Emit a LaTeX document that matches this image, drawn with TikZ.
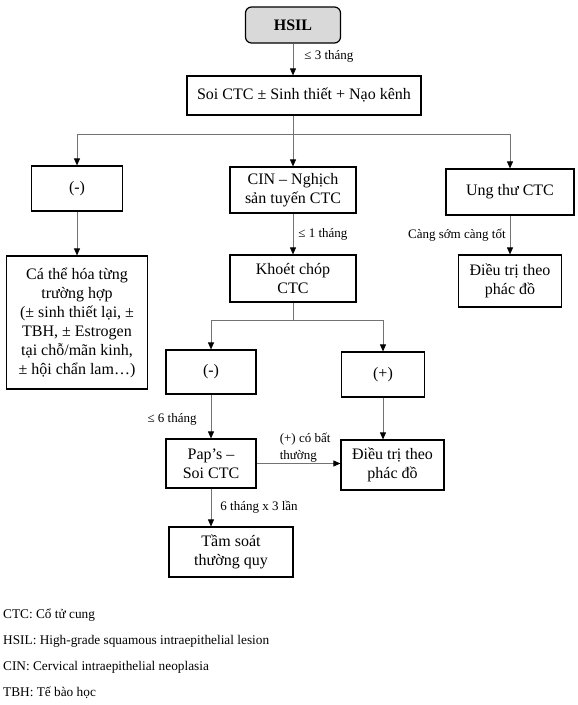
\documentclass[tikz,border=0pt]{standalone}
\usepackage{fontspec}
\setmainfont{Liberation Serif}
\usetikzlibrary{arrows.meta}

\begin{document}
\begin{tikzpicture}[x=1pt, y=-1pt,
    box/.style={draw, line width=1.2pt, align=center, inner sep=0pt, font=\fontsize{16}{19}\selectfont},
    arr/.style={draw=black!55, line width=0.8pt, -{Triangle[length=7pt, width=6pt, color=black]}},
    link/.style={draw=black!55, line width=0.8pt},
    lbl/.style={font=\fontsize{13}{17}\selectfont, inner sep=1pt},
    key/.style={anchor=west, inner sep=0pt, font=\fontsize{13.3}{15}\selectfont}]
    \useasboundingbox (0,0) rectangle (578,705);
    \node[box, rounded corners=6pt, fill=black!15, font=\bfseries\fontsize{16}{19}\selectfont,
        minimum width=95pt, minimum height=36pt] (hsil) at (293,25) {HSIL};
    \node[box, minimum width=234pt, minimum height=39pt] (soi) at (304,95.5) {Soi CTC ± Sinh thiết + Nạo kênh};
    \node[box, minimum width=91pt, minimum height=45pt] (neg) at (77,188.5) {(-)};
    \node[box, minimum width=126pt, minimum height=46pt] (cin) at (293,190) {CIN – Nghịch\\sản tuyến CTC};
    \node[box, minimum width=128pt, minimum height=46pt] (cancer) at (510,192) {Ung thư CTC};
    \node[box, minimum width=141pt, minimum height=133pt] (indiv) at (77,322.5)
        {Cá thể hóa từng\\trường hợp\\(± sinh thiết lại, ±\\TBH, ± Estrogen\\tại chỗ/mãn kinh,\\± hội chẩn lam…)};
    \node[box, minimum width=126pt, minimum height=47pt] (cone) at (293,278.5) {Khoét chóp\\CTC};
    \node[box, minimum width=103pt, minimum height=52pt] (treatA) at (510,281) {Điều trị theo\\phác đồ};
    \node[box, minimum width=90pt, minimum height=44pt] (negB) at (211,372) {(-)};
    \node[box, minimum width=83pt, minimum height=45pt] (pos) at (383,374.5) {(+)};
    \node[box, minimum width=90pt, minimum height=49pt] (pap) at (211,463.5) {Pap’s –\\Soi CTC};
    \node[box, minimum width=103pt, minimum height=50pt] (treatB) at (392.5,465) {Điều trị theo\\phác đồ};
    \node[box, minimum width=124pt, minimum height=50pt] (screen) at (231,552) {Tầm soát\\thường quy};
    \coordinate (fork) at (293,134);
    \coordinate (forkB) at (293,320);

    \draw[arr] (hsil) -- (soi.north -| hsil) node[lbl, pos=0.4, right=10pt] {≤ 3 tháng};
    \draw[link] (soi.south -| fork) -- (fork);
    \draw[arr] (fork) -| (neg);
    \draw[arr] (fork) -- (cin);
    \draw[arr] (fork) -| (cancer);
    \draw[arr] (neg) -- (indiv);
    \draw[arr] (cin) -- (cone) node[lbl, midway, right=4pt] {≤ 1 tháng};
    \draw[arr] (cancer) -- (treatA) node[lbl, midway, left=3pt] {Càng sớm càng tốt};
    \draw[link] (cone) -- (forkB);
    \draw[arr] (forkB) -| (negB);
    \draw[arr] (forkB) -| (pos);
    \draw[arr] (negB) -- (pap) node[lbl, pos=0.57, left=13pt] {≤ 6 tháng};
    \draw[arr] (pos) -- (pos |- treatB.north);
    \draw[arr] (pap) -- (screen.north -| pap) node[lbl, midway, right=8pt] {6 tháng x 3 lần};
    \draw[arr] (pap) -- (pap -| treatB.west)
        node[lbl, pos=0.26, anchor=south west, align=left] {(+) có bất\\thường};

    \node[key] (kCTC) at (3,615) {CTC: Cổ tử cung};
    \node[key] (kHSIL) at (3,641) {HSIL: High-grade squamous intraepithelial lesion};
    \node[key] (kCIN) at (3,667) {CIN: Cervical intraepithelial neoplasia};
    \node[key] (kTBH) at (3,693) {TBH: Tế bào học};
\end{tikzpicture}
\end{document}
